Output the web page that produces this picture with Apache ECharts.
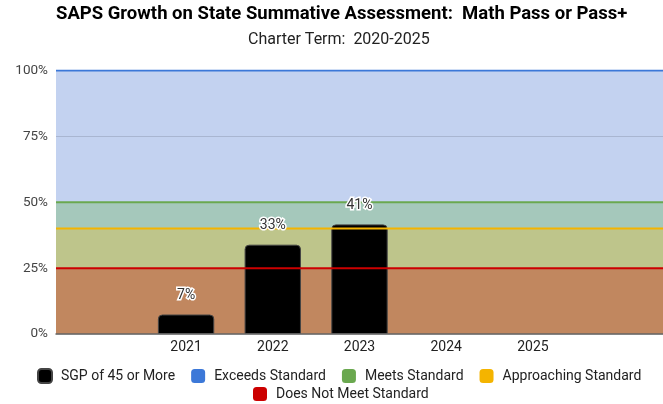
<!DOCTYPE html>
<html><head><meta charset="utf-8">
<script src="https://cdn.jsdelivr.net/npm/echarts@6/dist/echarts.min.js"></script>
<style>html,body{margin:0;padding:0;background:#fff}#c{width:663px;height:404px}</style>
</head><body><div id="c"></div>
<script>
const categories = ['', '2021', '2022', '2023', '2024', '2025', ''];
const sgpValues = [null, 7.4, 33.9, 41.6, null, null, null];
const yTicks = [0, 25, 50, 75, 100];
const bandNames = ['Exceeds Standard', 'Meets Standard', 'Approaching Standard', 'Does Not Meet Standard'];
const bandTops = [100, 50, 40, 25];
const bandLineColors = ['#3c78d8', '#6aa84f', '#f4b400', '#cc0000'];
const bandFillColors = ['#c3d2f0', '#a5c8bb', '#bec58b', '#c1875f'];

const font = 'Roboto, "Noto Sans", sans-serif';
const series = [];
bandNames.forEach((n, i) => {
  series.push({
    name: n, type: 'line', xAxisIndex: 1, z: 1, silent: true, symbol: 'none',
    data: [[0, bandTops[i]], [categories.length, bandTops[i]]],
    lineStyle: {width: 0}, itemStyle: {color: bandLineColors[i]},
    areaStyle: {color: bandFillColors[i], opacity: 1}
  });
});
series.push({
  name: 'SGP of 45 or More', type: 'bar', z: 3, data: sgpValues, barWidth: '65%',
  itemStyle: {color: '#000', borderColor: '#444', borderWidth: 1, borderRadius: [4, 4, 0, 0]}
});
bandNames.forEach((n, i) => {
  series.push({
    name: n, type: 'line', xAxisIndex: 1, z: 4, silent: true, symbol: 'none',
    data: [[0, bandTops[i]], [categories.length, bandTops[i]]],
    lineStyle: {width: 2, color: bandLineColors[i]}, itemStyle: {color: bandLineColors[i]}
  });
});
series.push({
  name: 'labels', type: 'bar', z: 5, data: sgpValues, barWidth: '65%', barGap: '-100%', silent: true,
  itemStyle: {color: 'rgba(0,0,0,0)'},
  label: {show: true, position: 'top', distance: 12, formatter: p => Math.floor(p.value) + '%',
    fontFamily: font, fontSize: 14, color: '#333', textBorderColor: '#fff', textBorderWidth: 3}
});

const legendText = {fontFamily: font, fontSize: 14, color: '#222', padding: [0, 0, 0, 4]};
const chart = echarts.init(document.getElementById('c'));
chart.setOption({
  animation: false,
  title: [
    {text: 'SAPS Growth on State Summative Assessment:  Math Pass or Pass+', left: 56, top: 5, padding: 0,
     textStyle: {fontFamily: font, fontWeight: 'bold', fontSize: 18.5, color: '#000'}},
    {text: 'Charter Term:  2020-2025', left: 248, top: 32, padding: 0,
     textStyle: {fontFamily: font, fontWeight: 'normal', fontSize: 16, color: '#222'}}
  ],
  legend: [
    {data: ['SGP of 45 or More', 'Exceeds Standard', 'Meets Standard', 'Approaching Standard'],
     left: 37, top: 368, padding: 0, itemWidth: 14, itemHeight: 14, itemGap: 16, icon: 'roundRect',
     textStyle: legendText},
    {data: ['Does Not Meet Standard'], left: 253, top: 387, padding: 0,
     itemWidth: 14, itemHeight: 14, icon: 'roundRect', textStyle: legendText}
  ],
  grid: {left: 56, right: -4, top: 70.5, bottom: 70, containLabel: false},
  xAxis: [
    {type: 'category', data: categories, axisTick: {show: false},
     axisLine: {lineStyle: {color: '#666', width: 1.5}}, z: 5,
     axisLabel: {fontFamily: font, fontSize: 14, color: '#222', margin: 6}},
    {type: 'value', min: 0, max: categories.length, show: false}
  ],
  yAxis: {type: 'value', min: yTicks[0], max: yTicks[yTicks.length - 1], interval: 25, z: 2,
    axisLabel: {fontFamily: font, fontSize: 13.5, color: '#444', margin: 8, formatter: v => v + '%'},
    splitLine: {lineStyle: {color: 'rgba(0,0,0,0.13)', width: 1}}, axisLine: {show: false}, axisTick: {show: false}},
  series: series
});
</script></body></html>
